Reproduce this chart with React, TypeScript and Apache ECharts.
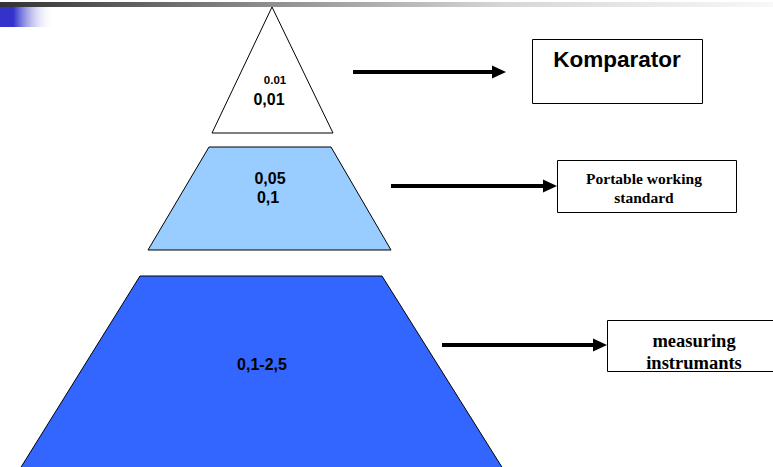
import React, { useEffect, useRef } from "react";
import * as echarts from "echarts";

// ---- content ----
const tierLabels: string[][] = [["0.01", "0,01"], ["0,05", "0,1"], ["0,1-2,5"]];
const standardNames: string[] = ["Komparator", "Portable working\nstandard", "measuring\ninstrumants"];

// ---- layout (in the hidden axes' units, 0..773 × 0..467) ----
const tierShapes: number[][][] = [
  [[272, 7], [333, 133], [212, 133]],
  [[209, 147], [331, 147], [391, 250], [148, 250]],
  [[140, 276], [382, 276], [505, 472], [18, 472]],
];
const labelPos: number[][][] = [
  [[275, 80], [269, 99]],
  [[270, 178], [268, 197]],
  [[262, 364]],
];
const labelSize: number[][] = [[11.5, 16], [16, 16], [16]];
const arrows: number[][] = [
  [353, 506, 72],
  [391, 557, 186],
  [442, 607, 345],
];
const boxes: number[][] = [
  [532, 39, 170, 64],
  [557, 160, 179, 52],
  [607, 320, 175, 51],
];
const boxTextPos: number[][] = [[617, 59], [644, 187.5], [694, 352]];
const boxFont: { size: number; family: string; lh: number }[] = [
  { size: 22.5, family: '"Liberation Sans", Arial, sans-serif', lh: 24 },
  { size: 15.5, family: '"Liberation Serif", "Times New Roman", serif', lh: 19 },
  { size: 18.5, family: '"Liberation Serif", "Times New Roman", serif', lh: 22 },
];
const tierFill = ["#ffffff", "#99ccff", "#3366ff"];

export default function App() {
  const ref = useRef<HTMLDivElement>(null);
  useEffect(() => {
    if (!ref.current) return;
    const chart = echarts.init(ref.current, undefined, { renderer: "svg" });
    const sans = '"Liberation Sans", Arial, sans-serif';
    chart.setOption({
      animation: false,
      backgroundColor: "#ffffff",
      grid: { left: 0, right: 0, top: 0, bottom: 0 },
      xAxis: { type: "value", min: 0, max: 773, show: false },
      yAxis: { type: "value", min: 0, max: 467, inverse: true, show: false },
      graphic: [
        {
          type: "rect",
          left: 0,
          top: 2,
          shape: { x: 0, y: 0, width: 773, height: 5 },
          style: {
            fill: new echarts.graphic.LinearGradient(0, 0, 1, 0, [
              { offset: 0, color: "#333333" },
              { offset: 0.34, color: "#8c8c8c" },
              { offset: 0.65, color: "#d6d6d6" },
              { offset: 1, color: "#f8f8f8" },
            ]),
          },
          z: 10,
        },
        {
          type: "rect",
          left: 0,
          top: 7,
          shape: { x: 0, y: 0, width: 54, height: 20 },
          style: {
            fill: new echarts.graphic.LinearGradient(0, 0, 1, 0, [
              { offset: 0, color: "#3333cc" },
              { offset: 0.25, color: "#3333cc" },
              { offset: 1, color: "rgba(255,255,255,0)" },
            ]),
          },
          z: 10,
        },
      ],
      series: [
        {
          type: "custom",
          coordinateSystem: "cartesian2d",
          clip: false,
          data: tierLabels.map((_, i) => [i, i]),
          renderItem: (params: any, api: any) => {
            const i = params.dataIndex;
            const pts = tierShapes[i].map((p) => api.coord(p));
            const children: any[] = [];
            children.push({
              type: "polygon",
              shape: { points: pts },
              style: { fill: tierFill[i], stroke: "#000", lineWidth: 1 },
            });
            tierLabels[i].forEach((t, k) => {
              const c = api.coord(labelPos[i][k]);
              children.push({
                type: "text",
                x: c[0],
                y: c[1],
                style: {
                  text: t,
                  fill: "#000",
                  fontSize: labelSize[i][k],
                  fontWeight: "bold",
                  fontFamily: sans,
                  align: "center",
                  verticalAlign: "middle",
                },
              });
            });
            const [x1, x2, ay] = arrows[i];
            const a = api.coord([x1, ay]);
            const b = api.coord([x2, ay]);
            children.push({
              type: "line",
              shape: { x1: a[0], y1: a[1], x2: b[0] - 11, y2: b[1] },
              style: { stroke: "#000", lineWidth: 4 },
            });
            children.push({
              type: "polygon",
              shape: { points: [[b[0] - 14, b[1] - 6.5], [b[0], b[1]], [b[0] - 14, b[1] + 6.5]] },
              style: { fill: "#000" },
            });
            const [bx, by, bw, bh] = boxes[i];
            const p0 = api.coord([bx, by]);
            const p1 = api.coord([bx + bw, by + bh]);
            children.push({
              type: "rect",
              shape: { x: p0[0] + 0.5, y: p0[1] + 0.5, width: p1[0] - p0[0], height: p1[1] - p0[1] },
              style: { fill: "#fff", stroke: "#000", lineWidth: 1 },
            });
            const tc = api.coord(boxTextPos[i]);
            children.push({
              type: "text",
              x: tc[0],
              y: tc[1],
              style: {
                text: standardNames[i],
                fill: "#000",
                fontSize: boxFont[i].size,
                fontWeight: "bold",
                fontFamily: boxFont[i].family,
                lineHeight: boxFont[i].lh,
                align: "center",
                verticalAlign: "middle",
              },
            });
            return { type: "group", children };
          },
        },
      ],
    });
    return () => chart.dispose();
  }, []);
  return (
    <div
      ref={ref}
      style={{ position: "absolute", left: 0, top: 0, width: 773, height: 467 }}
    />
  );
}
